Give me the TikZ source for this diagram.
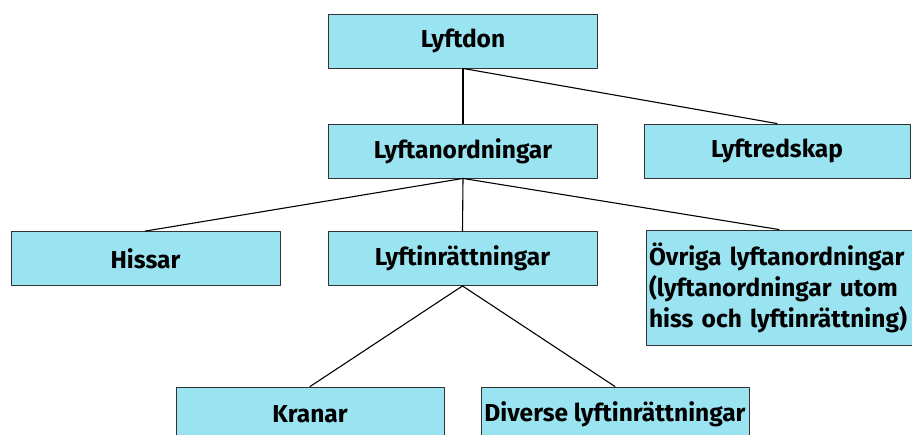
\documentclass[tikz,border=0pt]{standalone}
\usepackage{fontspec}
\setmainfont{Fira Sans}
\begin{document}
\begin{tikzpicture}[x=1pt, y=1pt, line join=round, line cap=round,
  font=\fontsize{24.5}{31}\selectfont\bfseries,
  box/.style={draw=black!80, line width=0.9pt, fill=cyanbox, inner sep=2pt,
    minimum width=269pt, minimum height=54pt, anchor=center},
  link/.style={line width=1.1pt, black}]
  \definecolor{cyanbox}{RGB}{154,228,242}
  \useasboundingbox (0,0) rectangle (912,435);
  \node[box] (lyftdon) at (463,394) {Lyftdon};
  \node[box] (anord) at (463,284) {Lyftanordningar};
  \node[box, minimum width=266pt] (redskap) at (777,284) {Lyftredskap};
  \node[box] (hissar) at (145.5,176.5) {Hissar};
  \node[box] (inratt) at (462.5,176.5) {Lyftinrättningar};
  \node[box, minimum width=266pt, minimum height=115pt, text width=260pt,
    align=left] (ovriga) at (779,147.5)
    {Övriga lyftanordningar\\(lyftanordningar utom\\hiss och lyftinrättning)};
  \node[box, minimum width=268pt] (kranar) at (310,21) {Kranar};
  \node[box, minimum width=268pt] (diverse) at (615,21) {Diverse lyftinrättningar};
  % connectors
  \draw[link] (lyftdon.south) -- (anord.north);
  \draw[link] (lyftdon.south) -- (redskap.north);
  \draw[link] (anord.south) -- (hissar.north);
  \draw[link] (anord.south) -- (inratt.north);
  \draw[link] (anord.south) -- (ovriga.north);
  \draw[link] (inratt.south) -- (kranar.north);
  \draw[link] (inratt.south) -- (diverse.north);
\end{tikzpicture}
\end{document}
